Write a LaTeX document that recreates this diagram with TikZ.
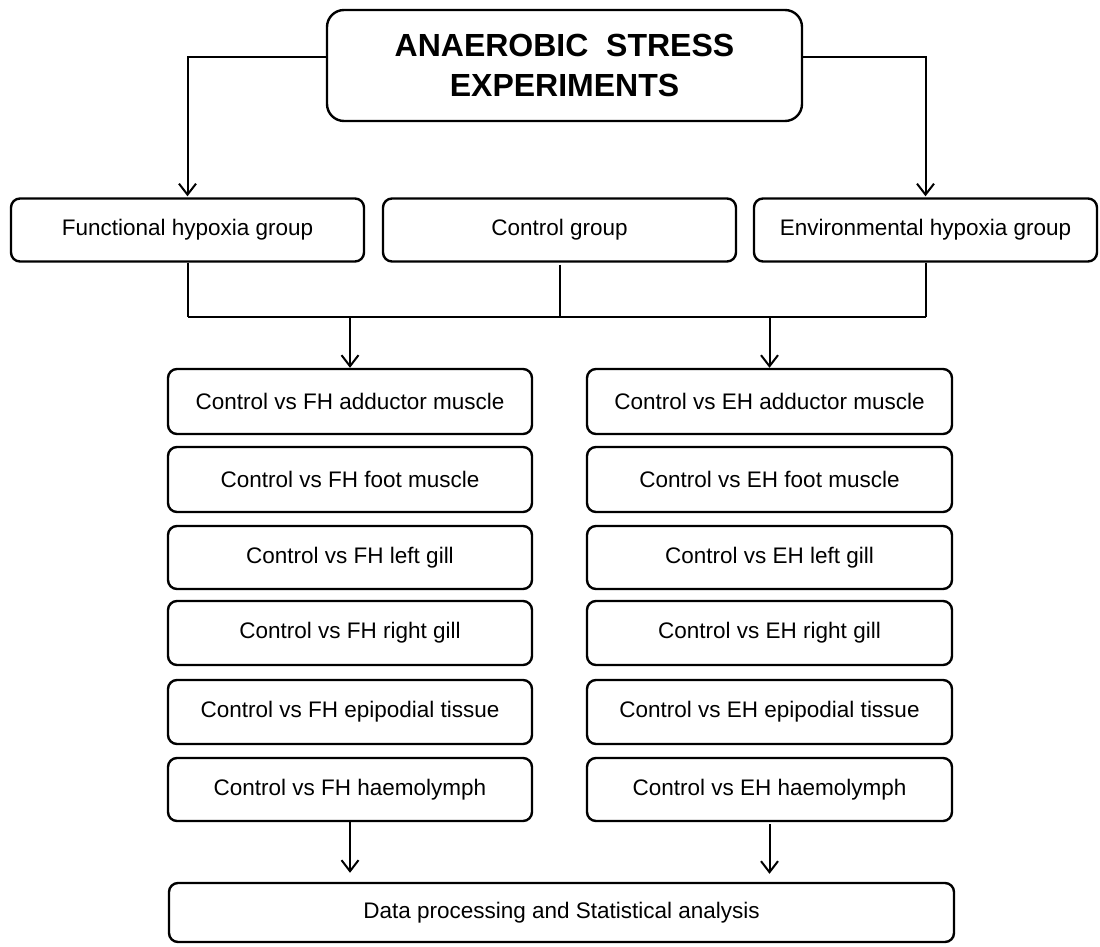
\documentclass[tikz,border=0pt]{standalone}
\usepackage{fontspec}
\setmainfont{Liberation Sans}
\usetikzlibrary{arrows.meta}

\tikzset{
  box/.style={draw, line width=2.4pt, rounded corners=9pt, inner sep=0pt,
    align=center, font=\fontsize{22.5}{27}\selectfont},
  titlebox/.style={box, rounded corners=17pt,
    font=\bfseries\fontsize{32}{40}\selectfont},
  link/.style={line width=2pt},
  arr/.style={link, -{Straight Barb[length=11pt,width=17pt]}},
}

\begin{document}
\begin{tikzpicture}[x=1pt,y=-1pt]
  \path[fill=white] (0,0) rectangle (1100,947);
  \useasboundingbox (0,0) rectangle (1100,947);

  % title
  \node[titlebox, minimum width=475pt, minimum height=111pt] (top) at (564.5,65.5)
    {ANAEROBIC~~STRESS\\EXPERIMENTS};

  % the three groups
  \node[box, minimum width=353pt, minimum height=63pt] (fh) at (187.5,230) {Functional hypoxia group};
  \node[box, minimum width=353pt, minimum height=63pt] (cg) at (559.5,230) {Control group};
  \node[box, minimum width=343pt, minimum height=63pt] (eh) at (925.5,230) {Environmental hypoxia group};

  % comparisons, functional hypoxia
  \node[box, minimum width=364pt, minimum height=65pt] (l1) at (350,401.5) {Control vs FH adductor muscle};
  \node[box, minimum width=364pt, minimum height=65pt] (l2) at (350,479.5) {Control vs FH foot muscle};
  \node[box, minimum width=364pt, minimum height=63pt] (l3) at (350,557.5) {Control vs FH left gill};
  \node[box, minimum width=364pt, minimum height=64pt] (l4) at (350,633) {Control vs FH right gill};
  \node[box, minimum width=364pt, minimum height=64pt] (l5) at (350,712) {Control vs FH epipodial tissue};
  \node[box, minimum width=364pt, minimum height=63pt] (l6) at (350,789.5) {Control vs FH haemolymph};

  % comparisons, environmental hypoxia
  \node[box, minimum width=365pt, minimum height=65pt] (r1) at (769.5,401.5) {Control vs EH adductor muscle};
  \node[box, minimum width=365pt, minimum height=65pt] (r2) at (769.5,479.5) {Control vs EH foot muscle};
  \node[box, minimum width=365pt, minimum height=63pt] (r3) at (769.5,557.5) {Control vs EH left gill};
  \node[box, minimum width=365pt, minimum height=64pt] (r4) at (769.5,633) {Control vs EH right gill};
  \node[box, minimum width=365pt, minimum height=64pt] (r5) at (769.5,712) {Control vs EH epipodial tissue};
  \node[box, minimum width=365pt, minimum height=63pt] (r6) at (769.5,789.5) {Control vs EH haemolymph};

  % final step
  \node[box, minimum width=785pt, minimum height=59pt] (bot) at (561.5,912.5)
    {Data processing and Statistical analysis};

  % branches from the title
  \coordinate (branch) at (0,57);
  \draw[arr, shorten >=1pt] (top.west |- branch) -| (fh.north);
  \draw[arr, shorten >=1pt] (top.east |- branch) -| (eh.north);

  % groups merge into one bus
  \coordinate (bus) at (0,317);
  \draw[link] (fh.south) -- (fh.south |- bus);
  \draw[link] ([yshift=-2pt]cg.south) -- (cg.south |- bus);
  \draw[link] (eh.south) -- (eh.south |- bus);
  \draw[link] (fh.south |- bus) -- (eh.south |- bus);
  \draw[arr] (l1.north |- bus) -- (l1.north);
  \draw[arr] (r1.north |- bus) -- (r1.north);

  % into the analysis
  \draw[arr, shorten >=9pt] (l6.south) -- (l6.south |- bot.north);
  \draw[arr, shorten >=8pt] ([yshift=-2pt]r6.south) -- (r6.south |- bot.north);
\end{tikzpicture}
\end{document}
